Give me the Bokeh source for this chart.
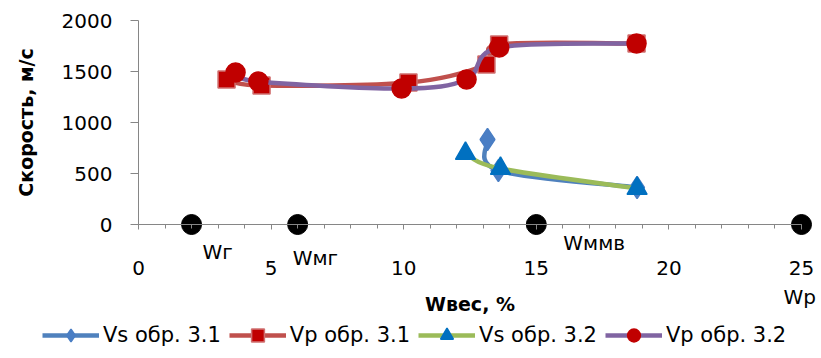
import numpy as np
from bokeh.plotting import figure
from bokeh.models import (Range1d, SingleIntervalTicker, FixedTicker, Legend,
                          LegendItem, Label, LinearAxis)
from bokeh.embed import file_html
from bokeh.resources import INLINE

# ---------------- data ----------------
x_ticks = [0, 5, 10, 15, 20, 25]
y_ticks = [0, 500, 1000, 1500, 2000]

vs31_x = [13.16, 13.57, 18.8]
vs31_y = [833, 529, 363]
vp31_x = [3.32, 4.64, 10.18, 13.12, 13.6, 18.78]
vp31_y = [1421, 1363, 1392, 1569, 1765, 1775]
vs32_x = [12.33, 13.65, 18.8]
vs32_y = [696, 549, 353]
vp32_x = [3.66, 4.52, 9.92, 12.37, 13.6, 18.78]
vp32_y = [1490, 1402, 1333, 1422, 1735, 1775]

w_x = [2, 6, 15, 25]
w_y = [0, 0, 0, 0]
w_labels = ["Wг", "Wмг", "Wммв", "Wр"]

series_names = ["Vs обр. 3.1", "Vp обр. 3.1", "Vs обр. 3.2", "Vp обр. 3.2"]
x_title = "Wвес, %"
y_title = "Скорость, м/с"

FONT = "DejaVu Sans"


def smooth_segments(xs, ys):
    """Bezier segments (Excel-like smoothed line) through the data points."""
    P = np.column_stack([xs, ys]).astype(float)
    n = len(P)
    segs = {k: [] for k in ("x0", "y0", "x1", "y1", "cx0", "cy0", "cx1", "cy1")}
    for i in range(n - 1):
        pm = P[max(i - 1, 0)]
        p0 = P[i]
        p1 = P[i + 1]
        p2 = P[min(i + 2, n - 1)]
        c0 = p0 + (p1 - pm) / 6.0
        c1 = p1 - (p2 - p0) / 6.0
        segs["x0"].append(p0[0]); segs["y0"].append(p0[1])
        segs["x1"].append(p1[0]); segs["y1"].append(p1[1])
        segs["cx0"].append(c0[0]); segs["cy0"].append(c0[1])
        segs["cx1"].append(c1[0]); segs["cy1"].append(c1[1])
    return segs


p = figure(width=821, height=358, output_backend="svg", toolbar_location=None,
           x_range=Range1d(-5.204, 25.754), y_range=Range1d(-1313.7, 2196.1),
           x_axis_location=None, y_axis_location=None,
           min_border_left=0, min_border_right=0, min_border_top=0,
           min_border_bottom=0)
p.outline_line_color = None
p.xgrid.visible = False
p.ygrid.visible = False
p.background_fill_color = "white"
p.border_fill_color = "white"

AX = "#868686"
xaxis = LinearAxis(ticker=SingleIntervalTicker(interval=5, num_minor_ticks=5),
                   fixed_location=0, bounds=(0, 25))
xaxis.axis_line_color = AX
xaxis.major_tick_line_color = AX
xaxis.minor_tick_line_color = AX
xaxis.major_tick_in = 0
xaxis.major_tick_out = 5
xaxis.minor_tick_in = 0
xaxis.minor_tick_out = 4
xaxis.major_label_standoff = 31
xaxis.major_label_text_font = FONT
xaxis.major_label_text_font_size = "20px"
xaxis.major_label_text_color = "black"
xaxis.axis_label = x_title
xaxis.axis_label_text_font = FONT
xaxis.axis_label_text_font_size = "19px"
xaxis.axis_label_text_font_style = "bold"
xaxis.axis_label_text_color = "black"
xaxis.axis_label_standoff = 15
p.add_layout(xaxis, "below")

yaxis = LinearAxis(ticker=FixedTicker(ticks=y_ticks), fixed_location=0,
                   bounds=(0, 2000))
yaxis.axis_line_color = AX
yaxis.major_tick_line_color = AX
yaxis.minor_tick_line_color = None
yaxis.major_tick_in = 0
yaxis.major_tick_out = 8
yaxis.major_label_standoff = 18
yaxis.major_label_text_font = FONT
yaxis.major_label_text_font_size = "20px"
yaxis.major_label_text_color = "black"
yaxis.axis_label = y_title
yaxis.axis_label_text_font = FONT
yaxis.axis_label_text_font_size = "19px"
yaxis.axis_label_text_font_style = "bold"
yaxis.axis_label_text_color = "black"
yaxis.axis_label_standoff = 22
p.add_layout(yaxis, "left")

LW = 4.5
series = [
    (vs31_x, vs31_y, "#4F81BD", "diamond", "#4A7EC4", "#4A7EC4", 22),
    (vp31_x, vp31_y, "#C0504D", "square", "#C00000", "#D07070", 17),
    (vs32_x, vs32_y, "#9BBB59", "triangle", "#0070C0", "#0070C0", 20),
    (vp32_x, vp32_y, "#8064A2", "circle", "#C00000", "#C00000", 19),
]

items = []
for (xs, ys, lc, mk, fc, mlc, sz), name in zip(series, series_names):
    s = smooth_segments(xs, ys)
    lr = p.bezier(line_color=lc, line_width=LW, **s)
    sr = p.scatter(xs, ys, marker=mk, size=sz, fill_color=fc, line_color=mlc,
                   line_width=1.5)
    items.append(LegendItem(label=name, renderers=[lr, sr]))

p.scatter(w_x, w_y, marker="circle", size=20, fill_color="black",
          line_color="black")

label_offsets = [(11, -27), (-5, -33), (27, -18), (-18, -72)]
for xv, yv, txt, (dx, dy) in zip(w_x, w_y, w_labels, label_offsets):
    p.add_layout(Label(x=xv, y=yv, text=txt, x_offset=dx, y_offset=dy,
                       text_font=FONT, text_font_size="20px",
                       text_baseline="middle", text_align="left",
                       text_color="black"))

legend = Legend(items=items, location=(42, 7), orientation="horizontal",
                glyph_width=57, glyph_height=32, label_standoff=4, spacing=8,
                padding=0, margin=0, border_line_color=None,
                background_fill_alpha=0, label_text_font=FONT,
                label_text_font_size="21px", label_text_color="black")
p.add_layout(legend, "center")

open("out.html", "w").write(file_html(p, INLINE))
